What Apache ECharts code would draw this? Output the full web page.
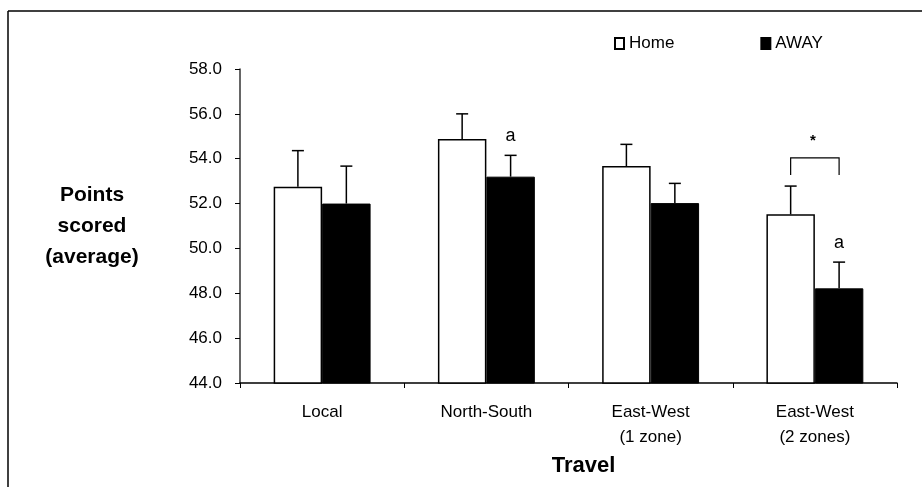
<!DOCTYPE html>
<html>
<head>
<meta charset="utf-8">
<script src="https://cdn.jsdelivr.net/npm/echarts@6/dist/echarts.min.js"></script>
<style>
html,body{margin:0;padding:0;background:#fff;}
#chart{width:922px;height:487px;}
</style>
</head>
<body>
<div id="chart"></div>
<script>
// ---- data ----
const categories = ['Local', 'North-South', 'East-West\n(1 zone)', 'East-West\n(2 zones)'];
const homeMeans = [52.75, 54.88, 53.67, 51.52];
const homeErr = [1.61, 1.12, 0.97, 1.26];
const awayMeans = [52.0, 53.2, 52.02, 48.22];
const awayErr = [1.67, 0.95, 0.88, 1.17];
const awayMarks = ['', 'a', '', 'a'];
const seriesNames = ['Home', 'AWAY'];
const yTicks = [44, 46, 48, 50, 52, 54, 56, 58];
// significance bracket: category index, bar level, leg bottom, star label
const bracketCat = [3];
const bracketTop = [54.04];
const bracketLeg = [53.27];
const bracketLabel = ['*'];

const FONT = '"Liberation Sans", Arial, Helvetica, sans-serif';
const BAR_FRAC = 0.295;

function errRender(side, marks) {
  return function (params, api) {
    const i = api.value(0), m = api.value(1), e = api.value(2);
    const band = api.size([1, 0])[0];
    const bw = band * BAR_FRAC;
    const p0 = api.coord([i, m]);
    const p1 = api.coord([i, m + e]);
    const cx = p0[0] + side * bw / 2;
    const st = { stroke: '#000', lineWidth: 1.5 };
    const children = [
      { type: 'line', shape: { x1: cx, y1: p0[1], x2: cx, y2: p1[1] }, style: st },
      { type: 'line', shape: { x1: cx - 6, y1: p1[1], x2: cx + 6, y2: p1[1] }, style: st }
    ];
    if (marks && marks[params.dataIndex]) {
      children.push({ type: 'text', style: { text: marks[params.dataIndex], x: cx, y: p1[1] - 19, textAlign: 'center', textVerticalAlign: 'middle', font: '18px ' + FONT, fill: '#000' } });
    }
    return { type: 'group', children: children };
  };
}

const option = {
  animation: false,
  backgroundColor: '#fff',
  textStyle: { fontFamily: FONT },
  legend: {
    left: 609, top: 30,
    itemWidth: 9, itemHeight: 11, itemGap: 86,
    icon: 'rect',
    textStyle: { fontSize: 17, color: '#000', fontFamily: FONT },
    data: seriesNames
  },
  grid: { left: 240, right: 25, top: 69, bottom: 104 },
  xAxis: {
    type: 'category',
    data: categories,
    name: 'Travel',
    nameLocation: 'middle',
    nameGap: 79,
    nameTextStyle: { fontSize: 22, fontWeight: 'bold', color: '#000', fontFamily: FONT, verticalAlign: 'middle', padding: [0, 0, 0, 30] },
    axisLine: { lineStyle: { color: '#000', width: 1.5 } },
    axisTick: { show: true, length: 5, lineStyle: { color: '#000' } },
    axisLabel: { fontSize: 17, color: '#000', fontFamily: FONT, margin: 17, lineHeight: 25 }
  },
  yAxis: {
    type: 'value',
    min: yTicks[0], max: yTicks[yTicks.length - 1], interval: 2,
    name: 'Points\nscored\n(average)',
    nameLocation: 'middle',
    nameGap: 148,
    nameRotate: 0,
    nameTextStyle: { fontSize: 21, fontWeight: 'bold', color: '#000', fontFamily: FONT, align: 'center', verticalAlign: 'middle', lineHeight: 31 },
    axisLine: { show: true, lineStyle: { color: '#333', width: 1.5 } },
    axisTick: { show: true, length: 5, lineStyle: { color: '#000' } },
    splitLine: { show: false },
    axisLabel: { fontSize: 17, color: '#000', fontFamily: FONT, margin: 18, formatter: v => v.toFixed(1) }
  },
  graphic: [
    { type: 'line', shape: { x1: 8, y1: 11, x2: 922, y2: 11 }, style: { stroke: '#000', lineWidth: 1.5 } },
    { type: 'line', shape: { x1: 8, y1: 11, x2: 8, y2: 487 }, style: { stroke: '#000', lineWidth: 1.5 } }
  ],
  series: [
    {
      name: seriesNames[0], type: 'bar', data: homeMeans,
      barWidth: (BAR_FRAC * 100) + '%', barGap: '0%',
      itemStyle: { color: '#fff', borderColor: '#000', borderWidth: 1.5 }
    },
    {
      name: seriesNames[1], type: 'bar', data: awayMeans,
      barWidth: (BAR_FRAC * 100) + '%', barGap: '0%',
      itemStyle: { color: '#000', borderColor: '#000', borderWidth: 1 }
    },
    {
      type: 'custom', name: 'homeErr', z: 5,
      renderItem: errRender(-1, null),
      encode: { x: 0, y: 1 },
      data: homeMeans.map((m, i) => [i, m, homeErr[i]])
    },
    {
      type: 'custom', name: 'awayErr', z: 5,
      renderItem: errRender(1, awayMarks),
      encode: { x: 0, y: 1 },
      data: awayMeans.map((m, i) => [i, m, awayErr[i]])
    },
    {
      type: 'custom', name: 'bracket', z: 5,
      encode: { x: 0, y: 1 },
      data: bracketCat.map((c, k) => [c, bracketTop[k], bracketLeg[k]]),
      renderItem: function (params, api) {
        const i = api.value(0), top = api.value(1), leg = api.value(2);
        const band = api.size([1, 0])[0];
        const bw = band * BAR_FRAC;
        const pt = api.coord([i, top]);
        const pl = api.coord([i, leg]);
        const xl = pt[0] - bw / 2, xr = pt[0] + bw / 2;
        const st = { stroke: '#000', lineWidth: 1.2, fill: null };
        return {
          type: 'group', children: [
            { type: 'polyline', shape: { points: [[xl, pl[1]], [xl, pt[1]], [xr, pt[1]], [xr, pl[1]]] }, style: st },
            { type: 'text', style: { text: bracketLabel[params.dataIndex], x: pt[0] - 2, y: pt[1] - 17, textAlign: 'center', textVerticalAlign: 'middle', font: 'bold 15px ' + FONT, fill: '#000' } }
          ]
        };
      }
    }
  ]
};

const chart = echarts.init(document.getElementById('chart'), null, { renderer: 'canvas' });
chart.setOption(option);
</script>
</body>
</html>
